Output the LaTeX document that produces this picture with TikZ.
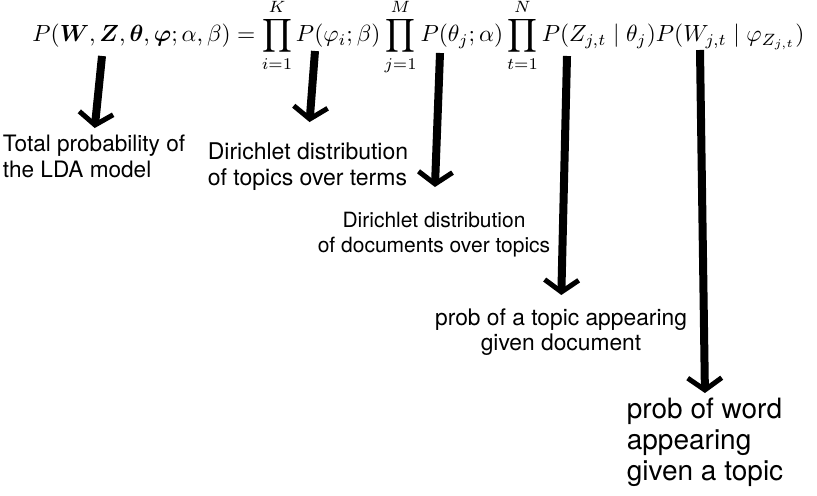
\documentclass[tikz,border=0pt]{standalone}
\usepackage{amsmath}
\usepackage{amsfonts}
\usepackage[no-math]{fontspec}
\newfontfamily\heros{TeX Gyre Heros}
\usetikzlibrary{arrows.meta}
\tikzset{
  bigarrow/.style={line width=4pt, -{Straight Barb[length=6pt, width=17pt, line width=2.5pt]}},
  note/.style={inner sep=0pt, anchor=north},
}
\newcommand\ldaeq{P(\boldsymbol{W},\boldsymbol{Z},\boldsymbol{\theta},\boldsymbol{\varphi};\alpha,\beta)=\prod_{i=1}^{K}P(\varphi_i;\beta)\prod_{j=1}^{M}P(\theta_j;\alpha)\prod_{t=1}^{N}P(Z_{j,t}\mid\theta_j)P(W_{j,t}\mid\varphi_{Z_{j,t}})}

\begin{document}
\begin{tikzpicture}[x=0.5pt, y=-0.5pt]
\useasboundingbox (0,0) rectangle (817,496);
\node[inner sep=0pt, anchor=base west] (eq) at (32,42) {\resizebox{386pt}{!}{$\displaystyle\ldaeq$}};
% labels under the formula
\node[note, align=left, font=\heros\fontsize{11.3}{13}\selectfont] (total) at (94,135) {Total probability of\\the LDA model};
\node[note, align=left, font=\heros\fontsize{11.5}{13}\selectfont] (topics) at (308,142) {Dirichlet distribution\\of topics over terms};
\node[note, align=center, font=\heros\fontsize{10.5}{12.5}\selectfont] (docs) at (434,212) {Dirichlet distribution\\of documents over topics};
\node[note, align=center, font=\heros\fontsize{11.4}{12.5}\selectfont] (ptopic) at (561,308) {prob of a topic appearing\\given document};
\node[note, align=left, font=\heros\fontsize{14}{15.5}\selectfont] (pword) at (705,398) {prob of word\\appearing\\given a topic};
% arrow tails
\coordinate (a1) at (102,56);
\coordinate (a2) at (315,51);
\coordinate (a3) at (440,53);
\coordinate (a4) at (567,56);
\coordinate (a5) at (700,50);
\draw[bigarrow, shorten >=3.5pt] (a1) -- (total.north);
\draw[bigarrow, shorten >=10pt] (a2) -- (topics.north);
\draw[bigarrow, shorten >=12.5pt] (a3) -- (docs.north);
\draw[bigarrow, shorten >=6.5pt] (a4) -- (ptopic.north);
\draw[bigarrow, shorten >=2.5pt] (a5) -- (pword.north);
\end{tikzpicture}
\end{document}
